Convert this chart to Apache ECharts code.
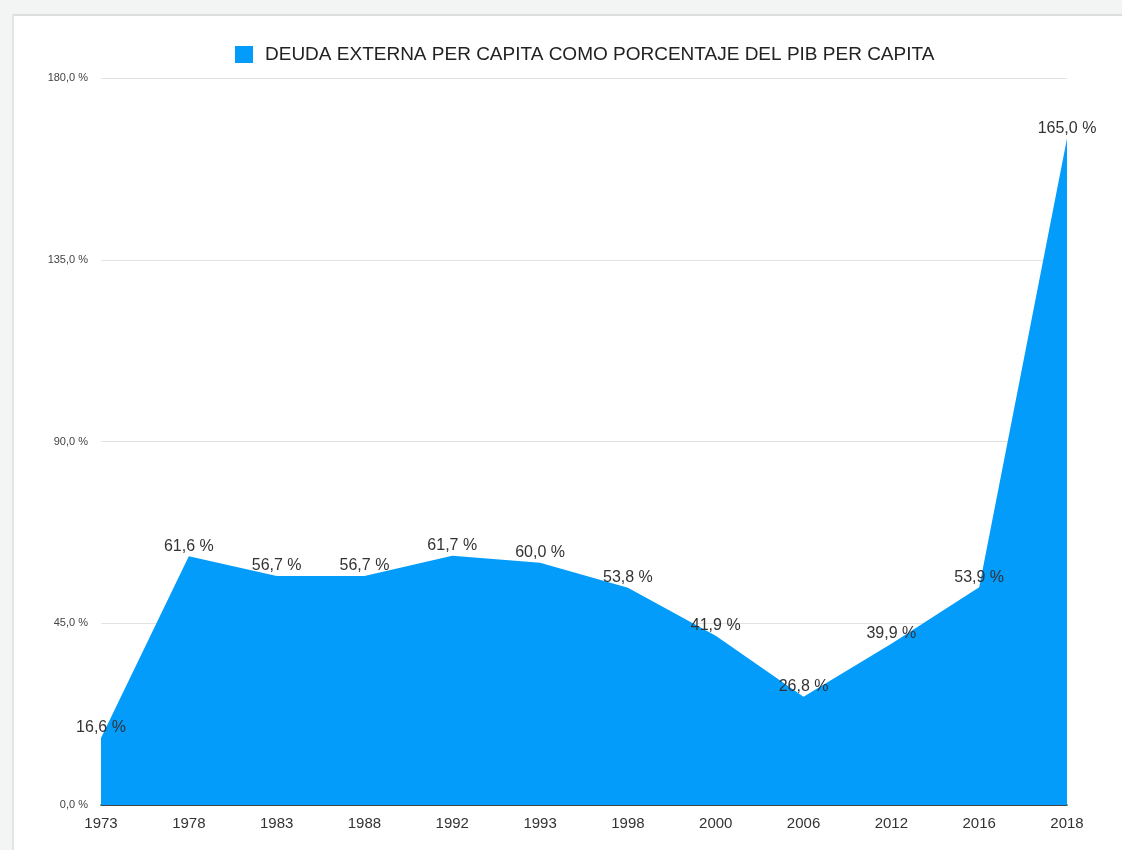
<!DOCTYPE html>
<html>
<head>
<meta charset="utf-8">
<script src="https://cdn.jsdelivr.net/npm/echarts@6/dist/echarts.min.js"></script>
<style>
  html, body { margin: 0; padding: 0; background: #f3f5f5; }
  .card {
    position: absolute; left: 12px; top: 14px; width: 1120px; height: 850px;
    background: #fff; border-left: 2px solid #e4e6e6; border-top: 2px solid #dcdede;
    box-sizing: border-box;
  }
  #chart { position: absolute; left: 0; top: 0; width: 1122px; height: 850px; }
</style>
</head>
<body>
<div class="card"></div>
<div id="chart"></div>
<script>
// years on the x axis
const years = ['1973', '1978', '1983', '1988', '1992', '1993', '1998', '2000', '2006', '2012', '2016', '2018']
// external debt per capita as % of GDP per capita
const debtPct = [16.6, 61.6, 56.7, 56.7, 61.7, 60.0, 53.8, 41.9, 26.8, 39.9, 53.9, 165.0]

const fmt = v => v.toFixed(1).replace('.', ',') + ' %'

const chart = echarts.init(document.getElementById('chart'))
chart.setOption({
  backgroundColor: 'transparent',
  textStyle: { fontFamily: 'Liberation Sans, Arial, sans-serif' },
  legend: {
    top: 40,
    left: 230,
    itemWidth: 18,
    itemHeight: 17,
    itemGap: 12,
    textStyle: { fontSize: 19, color: '#222', padding: [0, 0, 0, 7] },
    data: [{ name: 'DEUDA EXTERNA PER CAPITA COMO PORCENTAJE DEL PIB PER CAPITA', icon: 'rect' }],
  },
  grid: { left: 101, right: 55, top: 78, bottom: 45 },
  xAxis: {
    type: 'category',
    data: years,
    boundaryGap: false,
    axisLine: { lineStyle: { color: '#111', width: 1.5 } },
    axisTick: { show: false },
    axisLabel: { color: '#333', fontSize: 15, margin: 11 },
  },
  yAxis: {
    type: 'value',
    min: 0,
    max: 180,
    interval: 45,
    axisLine: { show: false },
    axisTick: { show: false },
    splitLine: { lineStyle: { color: '#e2e2e2' } },
    axisLabel: { color: '#444', fontSize: 11, margin: 13, formatter: v => fmt(v), verticalAlign: 'middle' },
  },
  series: [
    {
      name: 'DEUDA EXTERNA PER CAPITA COMO PORCENTAJE DEL PIB PER CAPITA',
      type: 'line',
      data: debtPct,
      symbol: 'circle',
      symbolSize: 0,
      showSymbol: true,
      color: '#039cfa',
      lineStyle: { width: 0 },
      areaStyle: { color: '#039cfa', opacity: 1 },
      label: {
        show: true,
        position: 'top',
        distance: 2,
        fontSize: 16,
        color: '#333',
        formatter: p => fmt(p.value),
      },
      labelLayout: { hideOverlap: false },
    },
  ],
})
</script>
</body>
</html>
